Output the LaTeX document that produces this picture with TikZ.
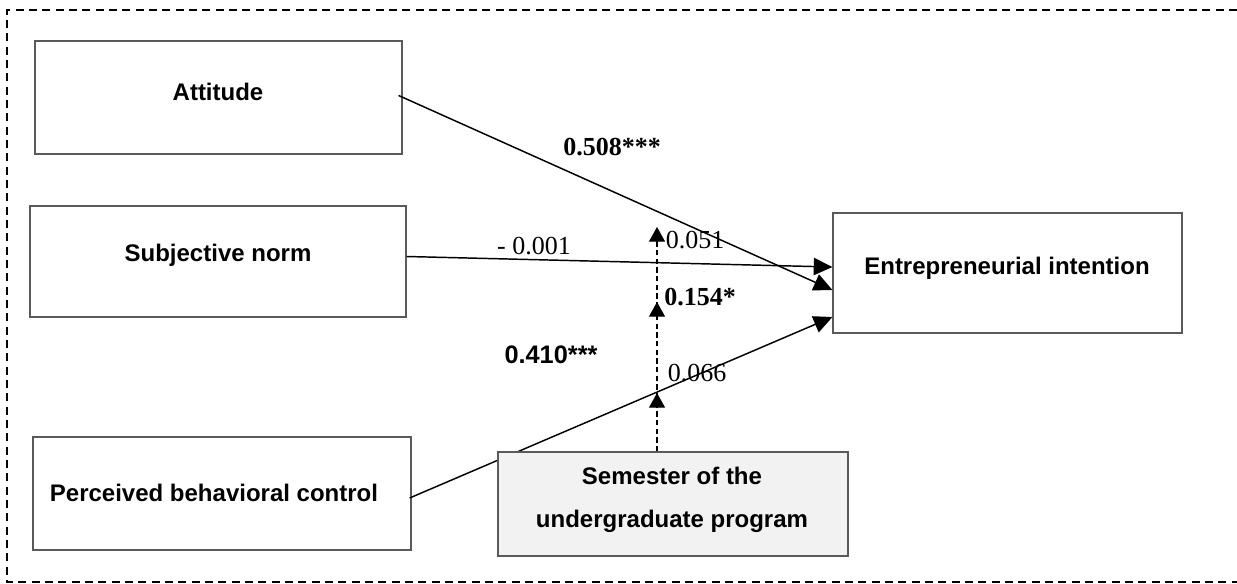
\documentclass[tikz,border=0pt]{standalone}
\usepackage{fontspec}
\setmainfont{Liberation Serif}
\setsansfont{Liberation Sans}
\usetikzlibrary{arrows.meta,calc}
\definecolor{boxgray}{HTML}{5A5A5A}
\definecolor{fillgray}{HTML}{F2F2F2}
\tikzset{
  box/.style={draw=boxgray, line width=0.9pt, inner sep=0pt},
  boxtext/.style={font=\sffamily\bfseries\fontsize{18}{22}\selectfont, inner sep=0pt, align=center},
  conn/.style={line width=1.1pt, -{Triangle[length=14pt,width=13pt]}},
  modarrow/.style={line width=0.9pt, dash pattern=on 4pt off 2.5pt, -{Triangle[length=11pt,width=12pt]}},
  coef/.style={font=\fontsize{19.5}{22}\selectfont, inner sep=0pt},
  coefb/.style={font=\bfseries\fontsize{19.5}{22}\selectfont, inner sep=0pt},
}
\begin{document}
\begin{tikzpicture}[x=0.75pt,y=-0.75pt]
\useasboundingbox (0,0) rectangle (1237,584);
% outer dashed frame
\draw[line width=1.7pt, dash pattern=on 6pt off 4pt] (1237,10) -- (7,10) -- (7,582) -- (1237,582);

% boxes
\node[box, minimum width=367*0.75pt, minimum height=113*0.75pt] (att) at (218.5,97.5) {};
\node[box, minimum width=376*0.75pt, minimum height=111*0.75pt] (sn) at (218,261.5) {};
\node[box, minimum width=378*0.75pt, minimum height=113*0.75pt] (pbc) at (222,493.5) {};
\node[box, minimum width=349*0.75pt, minimum height=120*0.75pt] (ei) at (1007.5,273) {};

\node[boxtext] (attT) at (218,92) {Attitude};
\node[boxtext] (snT) at (218,255) {Subjective norm};
\node[boxtext] (pbcT) at (214,493) {Perceived behavioral control};
\node[boxtext] (eiT) at (1007,268) {Entrepreneurial intention};

% connectors
\draw[conn] ($(att.east)+(-4,-2)$) -- ($(ei.west)+(0,17)$);
\draw[conn] ($(sn.east)+(0,-5)$) -- ($(ei.west)+(0,-6)$);
\draw[conn] ($(pbc.east)+(-2,4.5)$) -- ($(ei.west)+(0,44)$);

% moderator box (drawn over the PBC line)
\node[box, fill=fillgray, minimum width=350*0.75pt, minimum height=104*0.75pt] (sem) at (673,504) {};
\node[boxtext] (semT1) at (672,476) {Semester of the};
\node[boxtext] (semT2) at (672,521) {undergraduate program};

% moderating dashed arrows
\coordinate (m0) at ($(sem.north)+(-16,0)$);
\coordinate (t1) at (657,393);
\coordinate (b1) at (657,407);
\coordinate (t2) at (657,302);
\coordinate (b2) at (657,316);
\coordinate (t3) at (657,227);
\draw[modarrow] (m0) -- (t1);
\draw[modarrow] (b1) -- (t2);
\draw[modarrow] (b2) -- (t3);

% coefficients
\node[coefb] (c508) at (612,147) {0.508***};
\node[coef] (c001) at (534,246) {- 0.001};
\node[coef] (c051) at (695,240) {0.051};
\node[coefb] (c154) at (700,297) {0.154*};
\node[font=\sffamily\bfseries\fontsize{19}{22}\selectfont, inner sep=0pt] (c410) at (551,355) {0.410***};
\node[coef] (c066) at (697,373) {0.066};
\end{tikzpicture}
\end{document}
